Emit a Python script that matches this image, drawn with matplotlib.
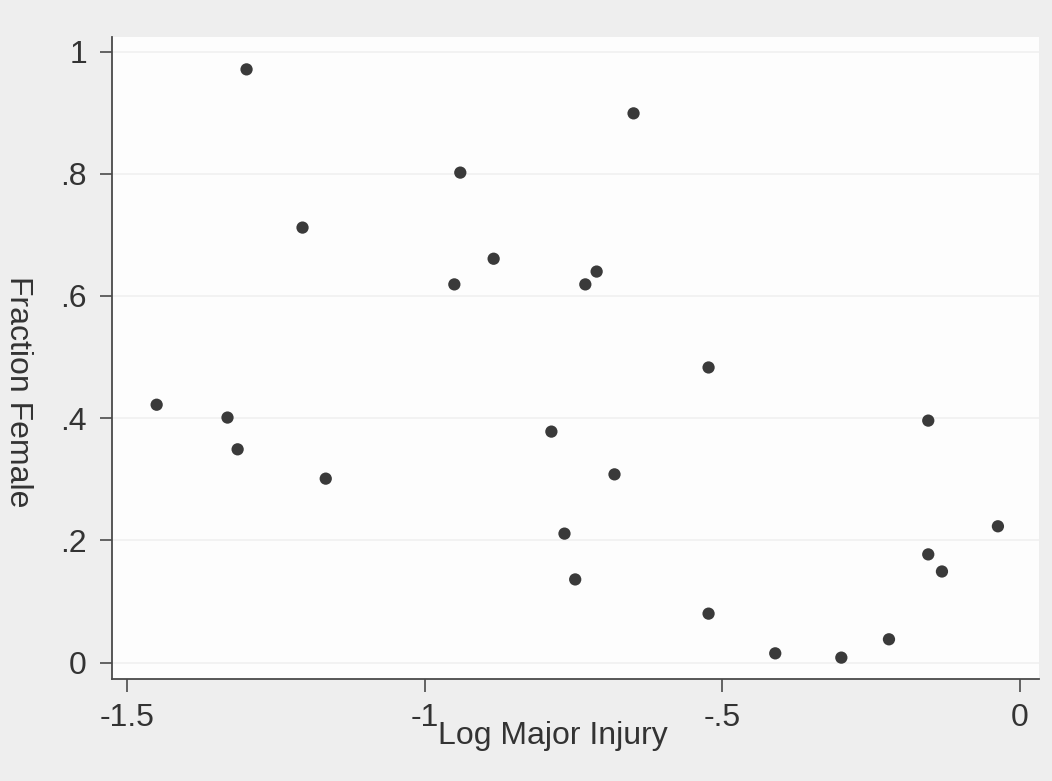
import matplotlib
matplotlib.use("Agg")
import matplotlib.pyplot as plt

# Data
log_major_injury = [-1.450, -1.331, -1.314, -1.299, -1.205, -1.166,
                    -0.950, -0.940, -0.884, -0.787, -0.765, -0.747,
                    -0.730, -0.711, -0.681, -0.649, -0.523, -0.523,
                    -0.411, -0.300, -0.220, -0.154, -0.154, -0.131, -0.037]
fraction_female = [0.422, 0.401, 0.349, 0.971, 0.712, 0.301,
                   0.619, 0.802, 0.661, 0.378, 0.211, 0.136,
                   0.619, 0.640, 0.308, 0.899, 0.483, 0.080,
                   0.015, 0.008, 0.038, 0.396, 0.177, 0.149, 0.223]

x_ticks = [-1.5, -1.0, -0.5, 0.0]
x_tick_labels = ["-1.5", "-1", "-.5", "0"]
y_ticks = [0.0, 0.2, 0.4, 0.6, 0.8, 1.0]
y_tick_labels = ["0", ".2", ".4", ".6", ".8", "1"]

plt.rcParams['font.family'] = ['Liberation Sans', 'DejaVu Sans']

W, H = 1052, 781
fig = plt.figure(figsize=(W / 100, H / 100), dpi=100)
fig.patch.set_facecolor('#eeeeee')

left, right, bottom, top = 112, 1039, 679, 37
ax = fig.add_axes([left / W, 1 - bottom / H, (right - left) / W, (bottom - top) / H])
ax.set_facecolor('#fdfdfd')

ax.scatter(log_major_injury, fraction_female, s=78, color='#3a3a3a',
           edgecolors='none', zorder=3)

ax.set_xlim(-1.525, 0.032)
ax.set_ylim(-0.027, 1.024)

ax.set_xticks(x_ticks)
ax.set_xticklabels(x_tick_labels)
ax.set_yticks(y_ticks)
ax.set_yticklabels(y_tick_labels)

ax.grid(axis='y', color='#f0f0f0', linewidth=1.2, zorder=0)
ax.grid(axis='x', visible=False)

for s in ['top', 'right']:
    ax.spines[s].set_visible(False)
for s in ['left', 'bottom']:
    ax.spines[s].set_color('#4a4a4a')
    ax.spines[s].set_linewidth(1.3)

ax.tick_params(axis='both', direction='out', length=9, width=1.2,
               color='#4a4a4a', labelsize=23, labelcolor='#333333')
ax.tick_params(axis='x', pad=8)
ax.tick_params(axis='y', pad=9)

fig.text(553 / W, 1 - 744 / H, 'Log Major Injury', ha='center', va='baseline',
         fontsize=23, color='#333333')
fig.text(18 / W, 1 - 392 / H, 'Fraction Female', ha='center', va='center',
         rotation=270, fontsize=23, color='#333333')

fig.savefig('out.png', dpi=100, facecolor=fig.get_facecolor())
